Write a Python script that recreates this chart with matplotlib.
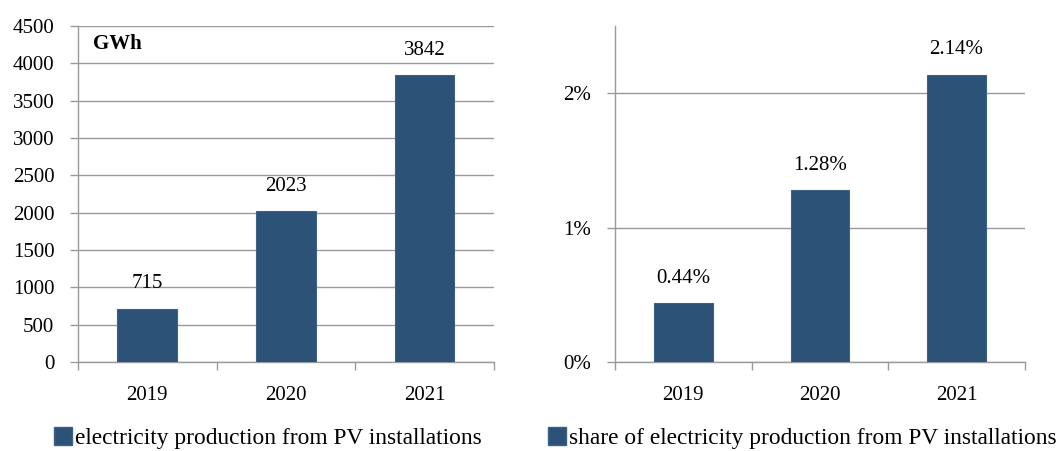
import matplotlib
matplotlib.use("Agg")
import matplotlib.pyplot as plt
from matplotlib.patches import Patch

years = ["2019", "2020", "2021"]
production_gwh = [715, 2023, 3842]
share_pct = [0.44, 1.28, 2.14]
production_labels = ["715", "2023", "3842"]
share_labels = ["0.44%", "1.28%", "2.14%"]

bar_color = "#2d5278"
grid_color = "#9a9a9a"

plt.rcParams["font.family"] = ["Liberation Serif", "DejaVu Serif"]
plt.rcParams["font.size"] = 15

fig = plt.figure(figsize=(10.61, 4.51), dpi=100)
ax1 = fig.add_axes([0.0735, 0.197, 0.392, 0.745])
ax2 = fig.add_axes([0.5796, 0.197, 0.3864, 0.745])


def style_axes(ax, yticks, ymax, ticklabels):
    x = range(len(years))
    ax.set_xlim(-0.5, len(years) - 0.5)
    ax.set_ylim(0, ymax)
    ax.set_yticks(yticks)
    ax.set_yticklabels(ticklabels)
    ax.yaxis.grid(True, color=grid_color, linewidth=1)
    ax.set_axisbelow(True)
    # tick marks at category boundaries, labels at centres
    ax.set_xticks([i - 0.5 for i in range(len(years) + 1)])
    ax.set_xticklabels([])
    ax.set_xticks(list(x), minor=True)
    ax.set_xticklabels(years, minor=True)
    ax.tick_params(axis="x", which="major", length=6, color=grid_color, width=1)
    ax.tick_params(axis="x", which="minor", length=0, pad=17)
    ax.tick_params(axis="y", length=6, color=grid_color, width=1, pad=11)
    for s in ["top", "right"]:
        ax.spines[s].set_visible(False)
    for s in ["left", "bottom"]:
        ax.spines[s].set_color(grid_color)
        ax.spines[s].set_linewidth(1)


# left: production in GWh
bars1 = ax1.bar(range(len(years)), production_gwh, width=0.43, color=bar_color,
                edgecolor="#3d6288", linewidth=0.8, zorder=3)
style_axes(ax1, range(0, 4501, 500), 4500, [str(v) for v in range(0, 4501, 500)])
for b, lab in zip(bars1, production_labels):
    ax1.annotate(lab, (b.get_x() + b.get_width() / 2, b.get_height()),
                 xytext=(0, 11), textcoords="offset points", ha="center", va="bottom")
ax1.text(0.036, 0.946, "GWh", transform=ax1.transAxes, fontweight="bold",
         ha="left", va="center")

# right: share of total production
bars2 = ax2.bar(range(len(years)), share_pct, width=0.43, color=bar_color,
                edgecolor="#3d6288", linewidth=0.8, zorder=3)
style_axes(ax2, [0, 1, 2], 2.5, ["0%", "1%", "2%"])
for b, lab in zip(bars2, share_labels):
    ax2.annotate(lab, (b.get_x() + b.get_width() / 2, b.get_height()),
                 xytext=(0, 11), textcoords="offset points", ha="center", va="bottom")

# legends
h = Patch(facecolor=bar_color, edgecolor="#3d6288")
fig.legend([h], ["electricity production from PV installations"],
           loc="center left", bbox_to_anchor=(54 / 1061, 0.028), frameon=False,
           fontsize=16.8, handlelength=0.78, handleheight=0.78, handletextpad=0.12,
           borderpad=0, borderaxespad=0)
fig.legend([h], ["share of electricity production from PV installations"],
           loc="center left", bbox_to_anchor=(548 / 1061, 0.028), frameon=False,
           fontsize=16.8, handlelength=0.78, handleheight=0.78, handletextpad=0.12,
           borderpad=0, borderaxespad=0)

fig.savefig("out.png", dpi=100)
